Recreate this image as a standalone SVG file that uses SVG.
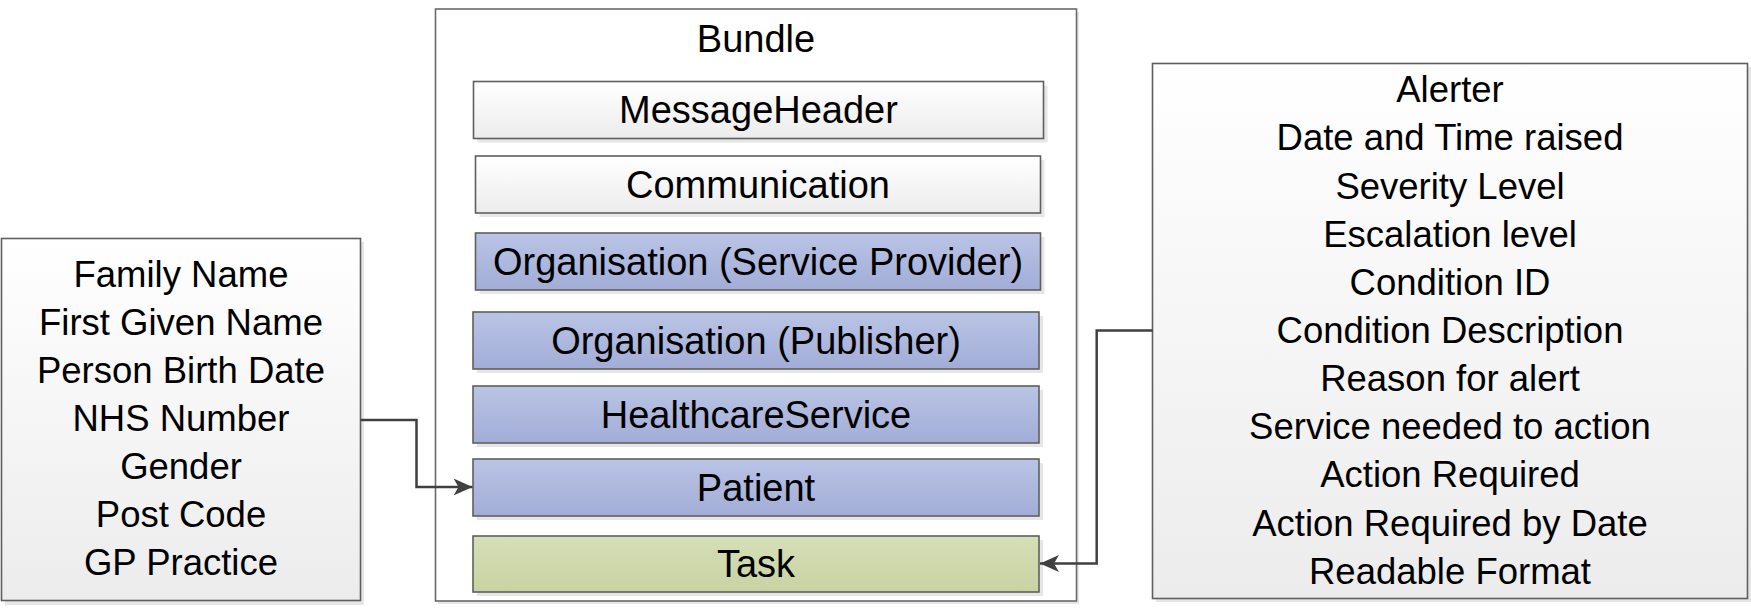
<svg xmlns="http://www.w3.org/2000/svg" width="1751" height="614" viewBox="0 0 1751 614">
<style>
  text { font-family: "Liberation Sans", Arial, sans-serif; fill: #000; text-anchor: middle; }
  .big { font-size: 38px; }
  .side { font-size: 36.5px; }
  .shadow { fill: #e6e6e6; stroke: none; }
  .box { stroke: #5f5f5f; stroke-width: 1.6; }
  .white { fill: url(#gWhite); }
  .blue { fill: url(#gBlue); }
  .green { fill: url(#gGreen); }
  .conn { fill: none; stroke: #404040; stroke-width: 2.5; }
</style>
<defs>
  <linearGradient id="gWhite" x1="0" y1="0" x2="0" y2="1">
    <stop offset="0" stop-color="#ffffff"/>
    <stop offset="1" stop-color="#ececec"/>
  </linearGradient>
  <linearGradient id="gBlue" x1="0" y1="0" x2="0" y2="1">
    <stop offset="0" stop-color="#bac4e5"/>
    <stop offset="1" stop-color="#a2add7"/>
  </linearGradient>
  <linearGradient id="gGreen" x1="0" y1="0" x2="0" y2="1">
    <stop offset="0" stop-color="#d6dfb6"/>
    <stop offset="1" stop-color="#c8d2a2"/>
  </linearGradient>
  <marker id="arrow" viewBox="0 0 19 17" refX="19" refY="8.5" markerWidth="19" markerHeight="17" markerUnits="userSpaceOnUse" orient="auto">
    <path d="M0,0 L19,8.5 L0,17 L5,8.5 Z" fill="#404040"/>
  </marker>
</defs>

<g id="bundle">
  <rect x="438" y="12" width="641" height="592" class="shadow"/>
  <rect x="435.5" y="9" width="641" height="592" fill="#ffffff" stroke="#6a6a6a" stroke-width="1.6"/>
  <text class="big" x="756" y="52">Bundle</text>
</g>

<g id="messageheader">
  <rect x="477.5" y="85.5" width="570" height="57" class="shadow"/>
  <rect x="473.5" y="81.5" width="570" height="57" class="box white"/>
  <text class="big" x="758.5" y="123">MessageHeader</text>
</g>

<g id="communication">
  <rect x="479.5" y="160" width="565" height="57" class="shadow"/>
  <rect x="475.5" y="156" width="565" height="57" class="box white"/>
  <text class="big" x="758" y="198">Communication</text>
</g>

<g id="org-service-provider">
  <rect x="479.5" y="237" width="565" height="57" class="shadow"/>
  <rect x="475.5" y="233" width="565" height="57" class="box blue"/>
  <text class="big" x="758" y="275">Organisation (Service Provider)</text>
</g>

<g id="org-publisher">
  <rect x="477" y="316" width="566" height="57" class="shadow"/>
  <rect x="473" y="312" width="566" height="57" class="box blue"/>
  <text class="big" x="756" y="354">Organisation (Publisher)</text>
</g>

<g id="healthcareservice">
  <rect x="477" y="390" width="566" height="57" class="shadow"/>
  <rect x="473" y="386" width="566" height="57" class="box blue"/>
  <text class="big" x="756" y="428">HealthcareService</text>
</g>

<g id="patient">
  <rect x="477" y="463" width="566" height="57" class="shadow"/>
  <rect x="473" y="459" width="566" height="57" class="box blue"/>
  <text class="big" x="756" y="501">Patient</text>
</g>

<g id="task">
  <rect x="477" y="540" width="566" height="56" class="shadow"/>
  <rect x="473" y="536" width="566" height="56" class="box green"/>
  <text class="big" x="756" y="577">Task</text>
</g>

<g id="patient-data">
  <rect x="5" y="242" width="359" height="363" class="shadow"/>
  <rect x="1.5" y="238.5" width="359" height="362" class="box white"/>
  <text class="side" x="181" y="286.5">Family Name</text>
  <text class="side" x="181" y="334.5">First Given Name</text>
  <text class="side" x="181" y="382.5">Person Birth Date</text>
  <text class="side" x="181" y="430.5">NHS Number</text>
  <text class="side" x="181" y="478.5">Gender</text>
  <text class="side" x="181" y="526.5">Post Code</text>
  <text class="side" x="181" y="574.5">GP Practice</text>
</g>

<g id="alert-data">
  <rect x="1156" y="67" width="595" height="535" class="shadow"/>
  <rect x="1152.5" y="63.5" width="595" height="535" class="box white"/>
  <text class="side" x="1450" y="102.3">Alerter</text>
  <text class="side" x="1450" y="150.4">Date and Time raised</text>
  <text class="side" x="1450" y="198.6">Severity Level</text>
  <text class="side" x="1450" y="246.7">Escalation level</text>
  <text class="side" x="1450" y="294.8">Condition ID</text>
  <text class="side" x="1450" y="343">Condition Description</text>
  <text class="side" x="1450" y="391.1">Reason for alert</text>
  <text class="side" x="1450" y="439.2">Service needed to action</text>
  <text class="side" x="1450" y="487.3">Action Required</text>
  <text class="side" x="1450" y="535.5">Action Required by Date</text>
  <text class="side" x="1450" y="583.6">Readable Format</text>
</g>

<g id="connectors">
  <path class="conn" d="M360.5,420 H416.5 V487 H472.5" marker-end="url(#arrow)"/>
  <path class="conn" d="M1152.5,330.5 H1096.7 V563.5 H1040" marker-end="url(#arrow)"/>
</g>
</svg>
